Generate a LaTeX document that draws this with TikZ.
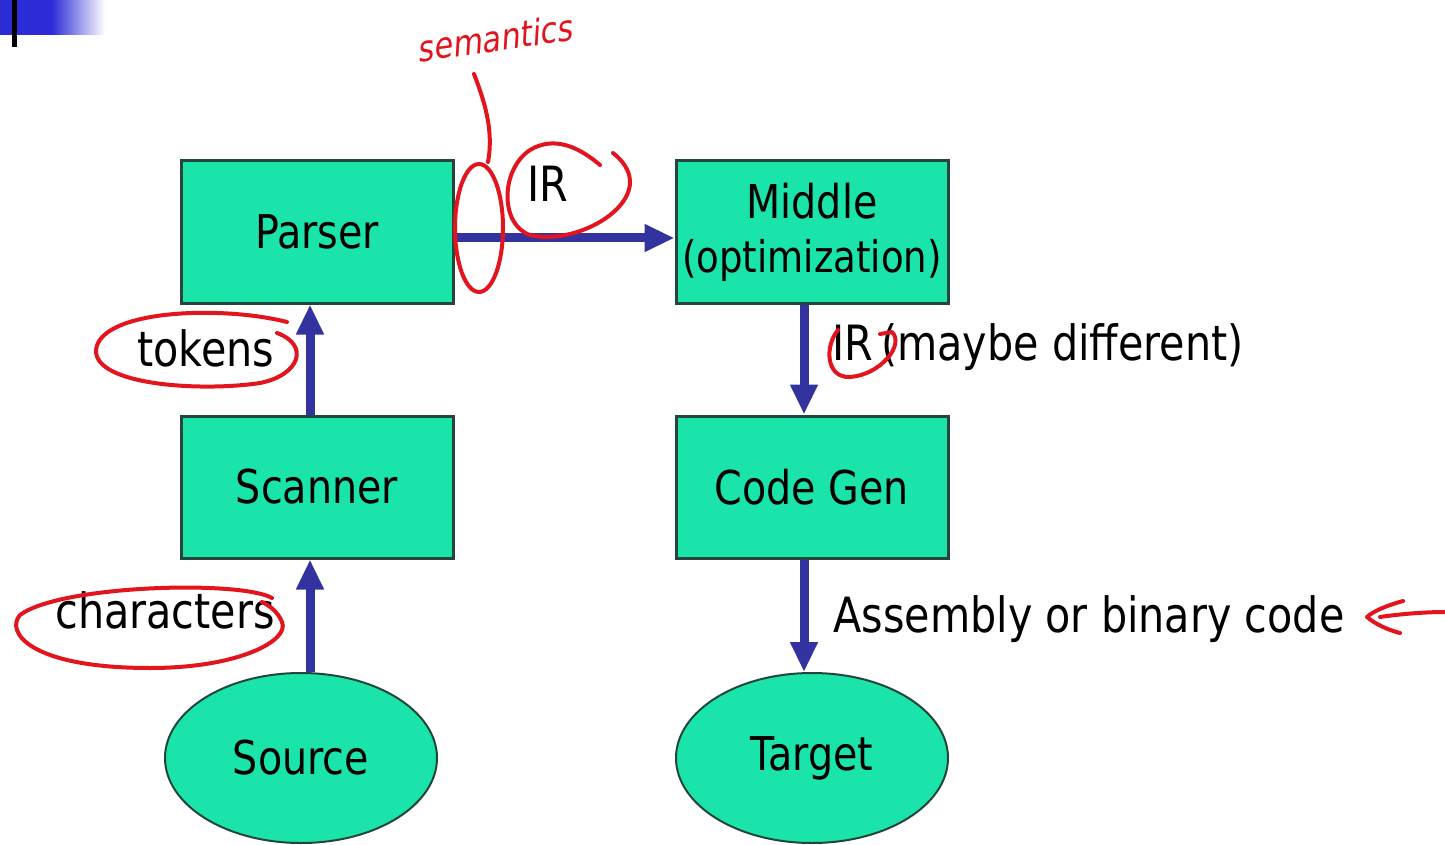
\documentclass[tikz,border=0pt]{standalone}
\usepackage{fontspec}
\setmainfont{DejaVu Sans}[FakeStretch=0.85]
\newfontfamily\handfont{DejaVu Sans}[FakeStretch=0.85,FakeSlant=0.2]
\usetikzlibrary{arrows.meta,shapes.geometric}
\definecolor{boxfill}{RGB}{26,228,170}
\definecolor{boxline}{RGB}{35,70,60}
\definecolor{flowblue}{RGB}{51,51,160}
\definecolor{inkred}{RGB}{226,20,30}
\definecolor{barblue}{RGB}{45,45,215}
\newcommand{\diagfont}{\fontsize{23.3}{25}\selectfont}
\newcommand{\lblfont}{\fontsize{24.3}{26}\selectfont}
\begin{document}
\begin{tikzpicture}[x=0.5pt,y=-0.5pt,
  stage/.style={draw=boxline, line width=1.5pt, fill=boxfill, minimum width=136pt, minimum height=71pt, inner sep=0pt, font=\diagfont, align=center},
  endpoint/.style={ellipse, draw=boxline, line width=1pt, fill=boxfill, minimum width=136pt, minimum height=85pt, inner sep=0pt, font=\diagfont},
  flow/.style={draw=flowblue, line width=4.5pt, -{Triangle[length=15pt,width=13pt]}},
  lbl/.style={font=\lblfont, inner sep=0pt, anchor=base west},
  ink/.style={draw=inkred, line width=2pt, line cap=round, line join=round}]
\useasboundingbox (0,0) rectangle (1445,845);
\fill[white] (0,0) rectangle (1445,845);
% top-left bar
\fill[barblue] (0,0) rectangle (53,35);
\shade[left color=barblue, right color=white] (52,0) rectangle (105,35);
\draw[black, line width=2.5pt] (14,0) -- (14,47);
% nodes
\node[stage] (parser) at (317,232) {Parser};
\node[stage, text width=132pt] (middle) at (812,232) {\raisebox{-2pt}{Middle}\\[2pt]{\fontsize{21.8}{24}\selectfont\raisebox{-2pt}{(optimization)}}};
\node[stage] (scanner) at (317,487) {Scanner};
\node[stage] (codegen) at (812,487) {Code Gen};
\node[endpoint] (source) at (301,758) {Source};
\node[endpoint] (target) at (812,758) {Target};
% connectors
\draw[flow] ([xshift=-3.5pt]scanner.south |- source.north) -- ([xshift=-3.5pt]scanner.south);
\draw[flow] ([xshift=-3.5pt]scanner.north) -- ([xshift=-3.5pt]parser.south);
\draw[flow] ([yshift=-3pt]parser.east) -- ([yshift=-3pt]middle.west);
\draw[flow] ([xshift=-4pt]middle.south) -- ([xshift=-4pt]codegen.north);
\draw[flow] ([xshift=-4pt]codegen.south) -- ([xshift=-4pt]codegen.south |- target.north);
% labels
\node[lbl] (irlabel) at (527,202) {IR};
\node[lbl] (tokens) at (137,366) {tokens};
\node[lbl] (chars) at (55,628) {characters};
\node[lbl] (irdiff) at (832,360) {IR\hspace{4pt}(maybe different)};
\node[lbl] (asm) at (833,632) {Assembly or binary code};
% red annotations
\node[rotate=8, text=inkred, font=\handfont\fontsize{18}{18}\selectfont, inner sep=0pt] (sem) at (494,38) {semantics};
\draw[ink] (474,74) .. controls (484,100) and (494,130) .. (488,162);
\draw[ink] (479,228) ellipse [x radius=24, y radius=64];
\draw[ink] (600,165) .. controls (580,148) and (555,135) .. (530,150) .. controls (500,170) and (500,225) .. (530,235) .. controls (570,245) and (630,215) .. (630,182) .. controls (630,170) and (622,160) .. (613,153);
\draw[ink] (287,322) .. controls (220,305) and (100,310) .. (96,350) .. controls (94,385) and (200,392) .. (260,383) .. controls (300,375) and (310,345) .. (277,333);
\draw[ink] (272,598) .. controls (240,580) and (60,585) .. (20,615) .. controls (5,632) and (30,668) .. (150,668) .. controls (240,668) and (290,640) .. (282,622) .. controls (278,612) and (270,606) .. (262,602);
\draw[ink] (880,334) -- (892,332) .. controls (905,345) and (880,375) .. (850,377) .. controls (825,378) and (825,345) .. (838,330);
\draw[ink] (1403,601) .. controls (1385,606) and (1372,612) .. (1367,617) .. controls (1375,624) and (1388,630) .. (1400,633);
\draw[ink] (1380,617) .. controls (1400,614) and (1425,612) .. (1445,612);
\end{tikzpicture}
\end{document}
